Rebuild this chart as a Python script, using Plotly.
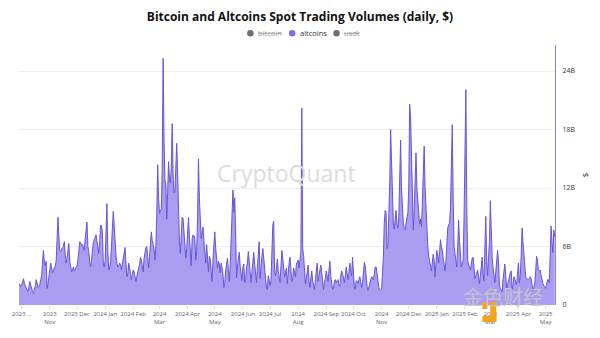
import pandas as pd
import plotly.graph_objects as go

# Daily altcoin spot trading volume, in billions of USD, starting 2023-09-28
start_date = "2023-09-28"

vol_oct_nov_2023 = [
    2.2, 2.0, 1.9, 2.1, 2.5, 2.7, 2.2, 1.9, 1.6, 1.5,
    1.4, 1.8, 2.4, 2.0, 1.6, 1.4, 1.2, 1.5, 2.0, 2.6,
    2.2, 1.8, 1.9, 2.1, 2.6, 3.0, 4.5, 5.6, 4.4, 4.0,
    4.5, 1.7, 2.2, 2.8, 3.5, 4.3, 3.8, 3.3, 3.6, 3.8,
    4.0, 4.5, 7.0, 9.0, 7.0, 5.6, 5.5, 5.8, 5.9, 6.0,
    6.5, 5.2, 4.3, 4.8, 5.8, 6.3, 4.5, 3.9, 3.4, 3.6,
]
vol_dec_2023_jan_2024 = [
    3.9, 3.5, 3.7, 3.9, 4.0, 4.6, 5.5, 6.5, 6.4, 6.1,
    6.2, 5.9, 5.6, 6.8, 8.2, 8.5, 6.0, 5.5, 4.4, 3.9,
    4.6, 5.6, 6.4, 6.7, 7.0, 7.2, 6.6, 5.6, 5.3, 6.5,
    8.2, 8.1, 7.5, 4.2, 3.9, 4.5, 7.5, 10.4, 5.5, 3.6,
    3.8, 4.4, 6.0, 8.3, 9.6, 8.2, 6.2, 5.1, 4.3, 3.9,
    4.0, 4.3, 4.1, 3.6, 4.2, 4.8, 5.5, 5.9, 4.3, 2.9,
]
vol_feb_mar_2024 = [
    3.2, 4.3, 3.8, 3.0, 2.6, 3.1, 3.6, 3.4, 2.7, 2.4,
    2.9, 3.5, 3.8, 4.1, 4.9, 4.6, 3.7, 3.4, 4.8, 5.6,
    5.9, 6.0, 4.5, 3.8, 5.0, 6.8, 7.5, 6.6, 6.3, 5.8,
    4.6, 6.0, 9.5, 14.4, 11.0, 9.4, 9.6, 9.9, 14.0, 25.3,
    17.0, 12.8, 12.5, 8.8, 11.5, 14.7, 13.0, 12.5, 14.0, 18.6,
    13.5, 11.5, 11.6, 14.0, 16.6, 13.5, 9.6, 6.5, 5.3, 8.2,
]
vol_apr_may_2024 = [
    9.0, 8.9, 7.5, 6.0, 4.8, 5.8, 7.5, 9.0, 7.0, 4.5,
    4.0, 6.8, 7.2, 7.1, 6.8, 4.6, 5.5, 9.0, 15.0, 11.0,
    8.0, 6.8, 7.5, 8.0, 6.6, 5.2, 4.3, 6.2, 4.5, 3.4,
    5.0, 4.7, 3.4, 2.4, 4.7, 6.5, 7.5, 5.8, 4.3, 3.8,
    4.5, 4.2, 3.3, 4.3, 3.8, 3.2, 1.8, 2.2, 3.6, 4.3,
    4.8, 3.6, 2.4, 4.0, 6.5, 10.0, 11.8, 9.5, 11.0, 7.5,
]
vol_jun_jul_2024 = [
    2.8, 3.9, 4.8, 5.4, 4.0, 3.3, 2.5, 3.9, 4.2, 2.3,
    2.6, 3.8, 4.3, 5.5, 4.5, 3.2, 2.3, 3.4, 4.6, 5.4,
    4.2, 3.3, 2.3, 4.0, 5.9, 6.5, 2.7, 4.5, 5.0, 5.8,
    4.8, 3.6, 2.4, 1.8, 1.6, 3.0, 2.6, 2.0, 2.5, 5.5,
    8.2, 8.6, 3.5, 3.0, 3.8, 4.7, 3.5, 2.6, 2.3, 4.0,
    5.6, 4.8, 3.6, 2.9, 3.3, 3.8, 2.2, 3.5, 4.3, 4.9,
]
vol_aug_sep_2024 = [
    3.6, 2.4, 2.7, 3.8, 3.3, 2.9, 4.2, 4.4, 4.6, 3.8,
    5.0, 5.5, 20.2, 5.8, 5.0, 3.2, 2.2, 2.7, 3.5, 4.1,
    2.4, 1.8, 2.8, 3.5, 2.4, 2.0, 1.6, 2.6, 3.8, 4.3,
    2.4, 3.2, 3.6, 4.1, 3.4, 2.2, 1.6, 2.4, 2.7, 3.5,
    2.7, 2.4, 3.6, 4.5, 2.9, 2.1, 1.6, 1.7, 2.5, 2.6,
    2.3, 2.5, 2.6, 2.0, 1.9, 3.0, 3.5, 3.2, 2.7, 2.3,
]
vol_oct_nov_2024 = [
    3.0, 3.9, 3.2, 2.6, 3.4, 4.3, 3.5, 3.0, 4.9, 2.4,
    1.7, 1.6, 2.5, 2.4, 2.2, 2.6, 2.9, 2.4, 1.8, 2.3,
    3.2, 4.4, 4.0, 2.7, 1.9, 1.5, 1.9, 2.2, 2.6, 2.9,
    2.8, 2.6, 3.2, 3.9, 3.9, 3.0, 2.2, 1.8, 1.5, 1.5,
    1.6, 3.2, 5.0, 8.5, 9.7, 9.5, 5.8, 6.0, 9.0, 12.5,
    18.0, 14.0, 10.5, 8.4, 7.8, 8.5, 9.7, 8.3, 7.9, 9.0,
]
vol_dec_2024_jan_2025 = [
    12.3, 16.9, 12.0, 10.0, 8.4, 7.8, 7.7, 8.4, 9.0, 9.5,
    12.0, 20.6, 19.3, 16.0, 11.5, 7.7, 9.8, 13.0, 15.6, 12.0,
    10.8, 9.0, 8.3, 8.8, 8.0, 10.5, 13.5, 16.3, 12.0, 9.5,
    7.6, 6.0, 5.0, 4.5, 3.8, 3.5, 4.4, 5.2, 4.6, 2.9,
    4.3, 5.6, 5.0, 4.3, 5.5, 6.7, 6.0, 5.6, 4.8, 3.8,
    3.5, 4.5, 7.3, 7.9, 8.2, 8.4, 10.0, 14.0, 18.5, 11.0,
]
vol_feb_mar_2025 = [
    6.0, 5.3, 4.6, 3.9, 6.0, 8.7, 6.5, 4.6, 3.9, 4.3,
    4.6, 9.0, 18.0, 22.1, 10.0, 4.6, 4.1, 3.8, 3.6, 4.2,
    4.8, 4.9, 3.6, 2.7, 3.0, 3.5, 3.6, 2.9, 2.2, 3.0,
    4.3, 4.9, 3.2, 2.5, 6.0, 9.1, 4.5, 3.0, 4.9, 6.5,
    10.7, 7.0, 4.9, 3.8, 2.6, 2.3, 3.4, 4.6, 5.6, 4.4,
    2.0, 1.7, 1.6, 1.4, 2.6, 3.9, 4.2, 3.0, 1.7, 2.0,
]
vol_apr_may_2025 = [
    2.5, 2.7, 3.3, 3.5, 1.6, 2.1, 2.9, 2.6, 2.3, 2.1,
    3.2, 4.3, 2.3, 3.0, 5.0, 7.9, 6.5, 5.2, 3.6, 2.9,
    2.7, 2.6, 2.6, 2.7, 2.9, 2.7, 2.0, 1.5, 1.8, 2.2,
    3.5, 5.0, 4.5, 3.6, 3.5, 3.6, 3.0, 2.4, 2.2, 2.0,
    1.8, 1.7, 2.0, 2.6, 2.6, 2.3, 5.0, 8.1, 6.5, 5.4,
    7.7, 7.0,
]

altcoins_b = (vol_oct_nov_2023 + vol_dec_2023_jan_2024 + vol_feb_mar_2024
              + vol_apr_may_2024 + vol_jun_jul_2024 + vol_aug_sep_2024
              + vol_oct_nov_2024 + vol_dec_2024_jan_2025 + vol_feb_mar_2025
              + vol_apr_may_2025)
dates = pd.date_range(start_date, periods=len(altcoins_b), freq="D")
altcoins_usd = [v * 1e9 for v in altcoins_b]

# Axis ticks
x_tick_dates = pd.date_range("2023-10-01", "2025-05-01", freq="MS")
x_tick_labels = [
    "2023 ...", "2023<br>Nov", "2023 Dec", "2024 Jan", "2024 Feb", "2024<br>Mar",
    "2024 Apr", "2024<br>May", "2024 Jun", "2024 Jul", "2024<br>Aug", "2024 Sep",
    "2024 Oct", "2024<br>Nov", "2024 Dec", "2025 Jan", "2025 Feb", "2025<br>Mar",
    "2025 Apr", "2025<br>May",
]
y_tick_vals = [0, 6e9, 12e9, 18e9, 24e9]
y_tick_labels = ["0", "6B", "12B", "18B", "24B"]

legend_names = ["bitcoin", "altcoins", "usdt"]
legend_active = [False, True, False]

LINE = "#6656d6"
FILL = "#a99cf1"
W, H = 600, 338
ML, MR, MT, MB = 18, 43, 45, 33
PW, PH = W - ML - MR, H - MT - MB


def px_x(px):
    return (px - ML) / PW


def px_y(py):
    return (H - MB - py) / PH


fig = go.Figure()
fig.add_trace(go.Scatter(
    x=dates, y=altcoins_usd, mode="lines", name="altcoins",
    line=dict(color=LINE, width=1), fill="tozeroy", fillcolor=FILL,
    showlegend=False,
))

shapes = []
annotations = []

# Hand-built legend row: dot + label per series
legend_dot_x = [250.7, 292.7, 337.3]
for name, active, cx in zip(legend_names, legend_active, legend_dot_x):
    r = 3.3
    shapes.append(dict(
        type="circle", xref="paper", yref="paper",
        x0=px_x(cx - r), x1=px_x(cx + r), y0=px_y(33.3 + r), y1=px_y(33.3 - r),
        fillcolor="#7b6cf0" if active else "#6f6f78", line=dict(width=0),
    ))
    label = name if active else f'<span style="text-decoration:line-through">{name}</span>'
    annotations.append(dict(
        x=px_x(cx + 6), y=px_y(33.3), xref="paper", yref="paper",
        text=label, showarrow=False, xanchor="left", yanchor="middle",
        font=dict(family="Open Sans", size=7.5, color="#333" if active else "#9a9a9a"),
    ))

# Watermarks
annotations.append(dict(
    x=px_x(287), y=px_y(173), xref="paper", yref="paper", text="CryptoQuant",
    showarrow=False, font=dict(family="Open Sans", size=23, color="#dcdcdc"),
))
annotations.append(dict(
    x=px_x(547), y=px_y(313), xref="paper", yref="paper", text="金色财经",
    showarrow=False, font=dict(family="Noto Sans CJK SC", size=20, color="rgba(200,200,200,0.9)"),
))
for x0, y0, x1, y1 in [(492, 302, 498, 322), (484, 316, 498, 322), (484, 302, 489, 309)]:
    shapes.append(dict(
        type="rect", xref="paper", yref="paper",
        x0=px_x(x0), x1=px_x(x1), y0=px_y(y1), y1=px_y(y0),
        fillcolor="#f2a516", line=dict(width=0),
    ))

fig.update_layout(
    width=W, height=H,
    margin=dict(l=ML, r=MR, t=MT, b=MB),
    paper_bgcolor="white", plot_bgcolor="white",
    title=dict(
        text="<b>Bitcoin and Altcoins Spot Trading Volumes (daily, $)</b>",
        x=0.5, xref="container", xanchor="center",
        y=1 - 17 / H, yref="container", yanchor="middle",
        font=dict(family="Open Sans", size=12, color="#111"),
    ),
    xaxis=dict(
        type="date",
        range=["2023-09-28", "2025-05-11 08:00"],
        tickvals=x_tick_dates, ticktext=x_tick_labels,
        tickfont=dict(family="Open Sans", size=6, color="#666"),
        ticks="outside", ticklen=3, tickcolor="#dddddd",
        showgrid=False, zeroline=False, showline=False,
        tickangle=0,
    ),
    yaxis=dict(
        side="right",
        range=[0, 26.67e9],
        tickvals=y_tick_vals, ticktext=y_tick_labels,
        tickfont=dict(family="Open Sans", size=7, color="#333"),
        ticks="", ticklabelstandoff=5,
        showgrid=True, gridcolor="#eeeeee", gridwidth=1,
        zeroline=False,
        showline=True, linecolor="#8b80e8", linewidth=1,
        title=dict(text="$", font=dict(family="Open Sans", size=8, color="#333"), standoff=7),
    ),
    shapes=shapes,
    annotations=annotations,
    showlegend=False,
)

fig.write_html("out.html")
